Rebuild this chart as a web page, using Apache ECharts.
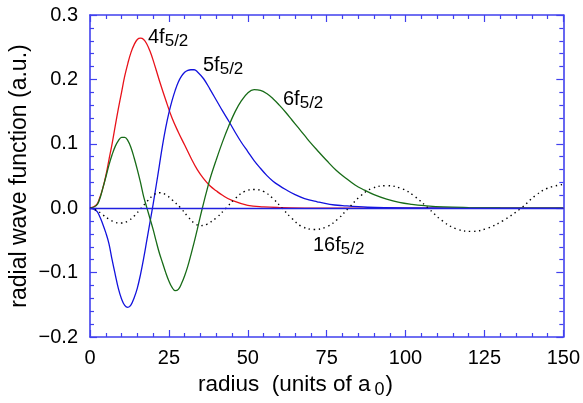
<!DOCTYPE html>
<html>
<head>
<meta charset="utf-8">
<script src="https://cdn.jsdelivr.net/npm/echarts@6/dist/echarts.min.js"></script>
<style>
  html, body { margin: 0; padding: 0; background: #fff; }
  #chart { width: 583px; height: 403px; }
</style>
</head>
<body>
<div id="chart"></div>
<script>
// radius (units of a0) and radial wave functions
var r4f = [0, 2, 3, 4, 5, 6, 7, 8, 9, 10, 11, 12, 13, 14, 15, 16, 17, 18, 19, 20, 22, 24, 26, 28, 30, 32, 34, 36, 38, 40, 42, 45, 50, 55, 60, 70, 150];
var f4f = [0, 0.005, 0.015, 0.03, 0.05, 0.075, 0.1, 0.128, 0.155, 0.18, 0.205, 0.225, 0.242, 0.254, 0.262, 0.264, 0.262, 0.255, 0.244, 0.23, 0.198, 0.168, 0.14, 0.118, 0.098, 0.078, 0.06, 0.046, 0.035, 0.027, 0.02, 0.012, 0.0045, 0.002, 0.001, 0.0002, 0];

var r5f = [0, 2, 3, 4, 5, 6, 7, 8, 9, 10, 11, 12, 13, 14, 15, 16, 17, 18, 19, 20, 21, 22, 23, 24, 25, 26, 27, 28, 29, 30, 31, 32, 33, 34, 36, 38, 40, 42, 44, 46, 48, 50, 52, 54, 56, 58, 60, 62, 65, 68, 72, 76, 80, 88, 100, 150];
var f5f = [0, -0.004, -0.012, -0.024, -0.038, -0.055, -0.08, -0.103, -0.125, -0.141, -0.151, -0.154, -0.15, -0.139, -0.124, -0.103, -0.078, -0.05, -0.022, 0.006, 0.036, 0.067, 0.098, 0.125, 0.148, 0.167, 0.183, 0.196, 0.205, 0.211, 0.214, 0.215, 0.215, 0.212, 0.201, 0.185, 0.168, 0.151, 0.135, 0.118, 0.102, 0.088, 0.074, 0.062, 0.051, 0.042, 0.035, 0.029, 0.021, 0.015, 0.01, 0.006, 0.004, 0.0015, 0.0005, 0];

var r6f = [0, 2, 3, 4, 5, 6, 7, 8, 9, 10, 11, 12, 13, 14, 15, 16, 17, 18, 19, 20, 21, 22, 23, 24, 25, 26, 27, 28, 29, 30, 31, 32, 33, 34, 35, 36, 37, 38, 40, 42, 44, 46, 48, 50, 52, 54, 56, 58, 60, 62, 64, 66, 68, 70, 72, 75, 78, 81, 84, 87, 90, 94, 98, 102, 106, 112, 120, 130, 150];
var f6f = [0, 0.004, 0.013, 0.03, 0.048, 0.067, 0.083, 0.096, 0.105, 0.11, 0.11, 0.105, 0.094, 0.078, 0.06, 0.04, 0.018, 0.001, -0.016, -0.033, -0.052, -0.07, -0.085, -0.1, -0.113, -0.123, -0.128, -0.126, -0.117, -0.105, -0.09, -0.072, -0.053, -0.033, -0.012, 0.008, 0.027, 0.045, 0.075, 0.103, 0.128, 0.15, 0.167, 0.179, 0.184, 0.183, 0.178, 0.17, 0.16, 0.149, 0.137, 0.125, 0.113, 0.101, 0.09, 0.074, 0.059, 0.047, 0.036, 0.028, 0.021, 0.014, 0.009, 0.006, 0.004, 0.002, 0.001, 0.0004, 0];

var r16f = [0, 2, 4, 6, 8, 10, 12, 14, 16.2, 18, 20, 22, 24, 26, 28.8, 31, 33, 35, 37, 40, 43.1, 46, 49, 52, 55, 58, 60.9, 64, 67, 71, 75, 78.5, 81.9, 85.5, 89, 94, 99, 103, 107.2, 111.5, 116, 121, 126, 131, 136.6, 141, 145, 150];
var f16f = [0, -0.003, -0.01, -0.017, -0.022, -0.023, -0.02, -0.012, 0, 0.01, 0.02, 0.024, 0.021, 0.013, 0, -0.013, -0.023, -0.027, -0.025, -0.015, 0, 0.015, 0.026, 0.029, 0.026, 0.015, 0, -0.016, -0.028, -0.033, -0.029, -0.017, 0, 0.018, 0.03, 0.035, 0.03, 0.018, 0, -0.019, -0.032, -0.036, -0.031, -0.019, 0, 0.019, 0.031, 0.037];

var xTicks = [0, 25, 50, 75, 100, 125, 150];
var yTicks = [-0.2, -0.1, 0.0, 0.1, 0.2, 0.3];

function pairs(xs, ys) {
  return xs.map(function (x, i) { return [x, ys[i]]; });
}

var FONT = '"Liberation Sans", Arial, Helvetica, sans-serif';
var AXIS_BLUE = '#4040ee';

var chart = echarts.init(document.getElementById('chart'));

function xAx(pos, showLabel) {
  return {
    type: 'value', position: pos, min: xTicks[0], max: xTicks[xTicks.length - 1], interval: 25,
    axisLine: { show: true, onZero: false, lineStyle: { color: AXIS_BLUE, width: 1.6 } },
    axisTick: { show: true, inside: true, length: 7, lineStyle: { color: AXIS_BLUE, width: 1.2 } },
    minorTick: { show: true, splitNumber: 5, length: 4, lineStyle: { color: AXIS_BLUE, width: 1.2 } },
    axisLabel: { show: showLabel, margin: 11, color: '#000', fontSize: 20, fontFamily: FONT },
    splitLine: { show: false }
  };
}
function yAx(pos, showLabel) {
  return {
    type: 'value', position: pos, min: yTicks[0], max: yTicks[yTicks.length - 1], interval: 0.1,
    axisLine: { show: true, onZero: false, lineStyle: { color: AXIS_BLUE, width: 1.6 } },
    axisTick: { show: true, inside: true, length: 7, lineStyle: { color: AXIS_BLUE, width: 1.2 } },
    minorTick: { show: true, splitNumber: 5, length: 4, lineStyle: { color: AXIS_BLUE, width: 1.2 } },
    axisLabel: {
      show: showLabel, margin: 12, color: '#000', fontSize: 20, fontFamily: FONT,
      formatter: function (v) { return v.toFixed(1).replace('-', '\u2212'); }
    },
    splitLine: { show: false }
  };
}

function line(name, xs, ys, color, dash) {
  return {
    name: name, type: 'line', xAxisIndex: 0, yAxisIndex: 0,
    data: pairs(xs, ys), smooth: 0.4, showSymbol: false, symbol: 'none',
    lineStyle: { color: color, width: dash ? 1.4 : 1.3, type: dash || 'solid' },
    animation: false
  };
}

var s16 = line('16f', r16f, f16f, '#000', [1.4, 3.6]);
s16.markLine = {
  silent: true, symbol: 'none', animation: false, label: { show: false },
  lineStyle: { color: '#2020e0', width: 1.3, type: 'solid' },
  data: [{ yAxis: 0 }]
};

// curve tag: main text + lowered subscript
function tag(x, y, main, sub) {
  return {
    type: 'text', left: x, top: y, z: 10,
    style: {
      text: '{m|' + main + '}{s|' + sub + '}',
      rich: {
        m: { fontSize: 20, fontFamily: FONT, fill: '#000', padding: [0, 0, 3, 0], verticalAlign: 'bottom' },
        s: { fontSize: 17, fontFamily: FONT, fill: '#000', verticalAlign: 'bottom' }
      }
    }
  };
}

chart.setOption({
  backgroundColor: '#fff',
  grid: { left: 90, right: 17, top: 15, bottom: 66 },
  xAxis: [xAx('bottom', true), xAx('top', false)],
  yAxis: [yAx('left', true), yAx('right', false)],
  series: [
    line('4f', r4f, f4f, '#e8121a'),
    line('5f', r5f, f5f, '#1212dd'),
    line('6f', r6f, f6f, '#176b17'),
    s16
  ],
  graphic: [
    tag(148, 27, '4f', '5/2'),
    tag(203, 55, '5f', '5/2'),
    tag(283, 89, '6f', '5/2'),
    tag(313, 235, '16f', '5/2'),
    {
      type: 'text', left: 198, top: 373,
      style: {
        text: '{m|radius  (units of a}{s|0}{m|)}',
        rich: {
          m: { fontSize: 22.5, fontFamily: FONT, fill: '#000', padding: [0, 0, 3, 0], verticalAlign: 'bottom' },
          s: { fontSize: 18, fontFamily: FONT, fill: '#000', padding: [0, 1, 0, 4], verticalAlign: 'bottom' }
        }
      }
    },
    {
      type: 'text', x: 20, y: 176, rotation: Math.PI / 2,
      style: {
        text: 'radial wave function (a.u.)', fontSize: 23, fontFamily: FONT, fill: '#000',
        align: 'center', verticalAlign: 'middle'
      }
    }
  ]
});
</script>
</body>
</html>
